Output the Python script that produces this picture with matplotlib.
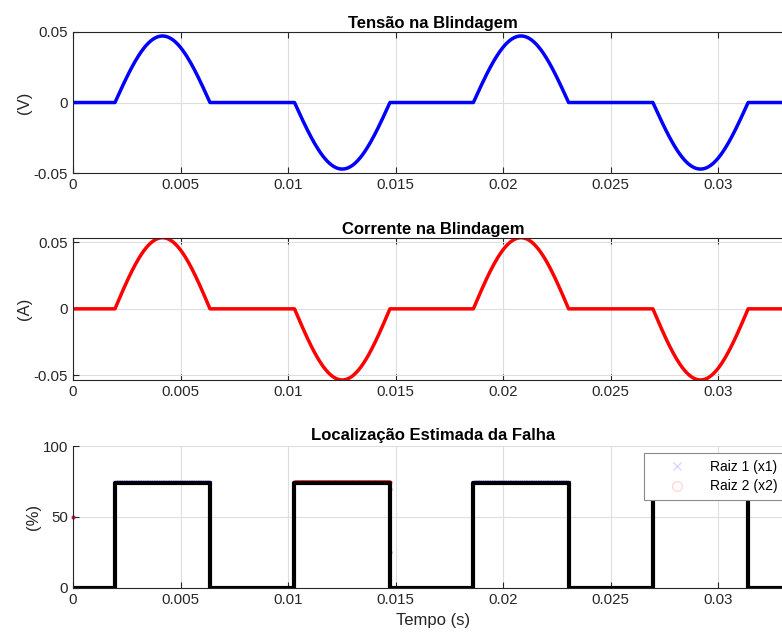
import numpy as np
import matplotlib.pyplot as plt
from matplotlib.lines import Line2D

# valores
lobe_start = [0.00195, 0.01030, 0.01862, 0.02697, 0.03530]
lobe_end = [0.00637, 0.01474, 0.02305, 0.03140, 0.03975]
lobe_sign = [1, -1, 1, -1, 1]
v_peak = 0.047
i_peak = 0.0534
loc_level = 73.7

raiz1_lobes = [0, 2, 3, 4]
raiz2_lobes = [1]
raiz_level = 74.6
raiz1_extra_t = [0.0]
raiz1_extra_y = [50]
raiz2_extra_t = [0.0, 0.01476, 0.01476]
raiz2_extra_y = [50, 25, 70]

xticks = [0, 0.005, 0.01, 0.015, 0.02, 0.025, 0.03]
xtick_labels = ['0', '0.005', '0.01', '0.015', '0.02', '0.025', '0.03']
x_max = 0.0335
t_end = 0.045

plt.rcParams['font.family'] = ['Liberation Sans', 'DejaVu Sans']
cinza = '#262626'


def arcos(peak):
    """ Monta a curva com os semiciclos de conducao"""
    tt, yy = [0.0], [0.0]
    for s, e, sg in zip(lobe_start, lobe_end, lobe_sign):
        ts = np.linspace(s, e, 80)
        tt += list(ts)
        yy += list(sg * peak * np.sin(np.pi * (ts - s) / (e - s)))
    tt.append(t_end)
    yy.append(0.0)
    return tt, yy


def degraus():
    tt, yy = [0.0], [0.0]
    for s, e in zip(lobe_start, lobe_end):
        tt += [s, s, e, e]
        yy += [0, loc_level, loc_level, 0]
    tt.append(t_end)
    yy.append(0)
    return tt, yy


def pontos_raiz(lobes, extra_t, extra_y):
    tt, yy = list(extra_t), list(extra_y)
    for k in lobes:
        ts = np.linspace(lobe_start[k], lobe_end[k], 150)
        tt += list(ts)
        yy += [raiz_level] * len(ts)
    return tt, yy


def estilo(ax, box=True):
    ax.set_xlim(0, x_max)
    ax.set_xticks(xticks)
    ax.set_xticklabels(xtick_labels)
    ax.grid(True, color='#dedede', linewidth=0.8)
    ax.set_axisbelow(True)
    ax.tick_params(direction='in', length=4, width=0.8, colors=cinza,
                   labelsize=10.8, top=box, right=box)
    for sp in ax.spines.values():
        sp.set_color(cinza)
        sp.set_linewidth(0.8)
    if not box:
        ax.spines['top'].set_visible(False)
        ax.spines['right'].set_visible(False)


fig = plt.figure(figsize=(7.82, 6.33), dpi=100)
w = x_max * 21500 / 782
ax1 = fig.add_axes([0.0934, 0.7262, w, 0.2237])
ax2 = fig.add_axes([0.0934, 0.3997, w, 0.2248])
ax3 = fig.add_axes([0.0934, 0.0716, w, 0.2238])

t, v = arcos(v_peak)
ax1.plot(t, v, color='blue', linewidth=2.5)
estilo(ax1)
ax1.set_ylim(-0.05, 0.05)
ax1.set_yticks([-0.05, 0, 0.05])
ax1.set_yticklabels(['-0.05', '0', '0.05'])
ax1.set_ylabel('(V)', fontsize=12, color=cinza, labelpad=1)
ax1.set_title('Tensão na Blindagem', fontsize=12, fontweight='bold', pad=3)

t, i = arcos(i_peak)
ax2.plot(t, i, color='red', linewidth=2.5)
estilo(ax2)
ax2.set_ylim(-i_peak, i_peak)
ax2.set_yticks([-0.05, 0, 0.05])
ax2.set_yticklabels(['-0.05', '0', '0.05'])
ax2.set_ylabel('(A)', fontsize=12, color=cinza, labelpad=1)
ax2.set_title('Corrente na Blindagem', fontsize=12, fontweight='bold', pad=3)

r1t, r1y = pontos_raiz(raiz1_lobes, raiz1_extra_t, raiz1_extra_y)
r2t, r2y = pontos_raiz(raiz2_lobes, raiz2_extra_t, raiz2_extra_y)
ax3.plot(r1t, r1y, 'x', color='blue', markersize=2, alpha=0.6, clip_on=False)
ax3.plot(r2t, r2y, 'o', color='red', markersize=2, alpha=0.6, clip_on=False)
t, loc = degraus()
ax3.plot(t, loc, color='black', linewidth=3)
estilo(ax3, box=False)
ax3.set_ylim(0, 100)
ax3.set_yticks([0, 50, 100])
ax3.set_ylabel('(%)', fontsize=12, color=cinza, labelpad=1)
ax3.set_xlabel('Tempo (s)', fontsize=12, color=cinza, labelpad=5)
ax3.set_title('Localização Estimada da Falha', fontsize=12, fontweight='bold', pad=4)

h1 = Line2D([], [], marker='x', linestyle='none', color='blue', alpha=0.15, markersize=6)
h2 = Line2D([], [], marker='o', linestyle='none', color='red', alpha=0.15, markersize=7,
            markerfacecolor='none')
leg = ax3.legend([h1, h2], ['Raiz 1 (x1)', 'Raiz 2 (x2)'], loc='upper left',
                 bbox_to_anchor=(644 / 782, 1 - 453 / 633), bbox_transform=fig.transFigure,
                 fontsize=10, fancybox=False, framealpha=1, borderaxespad=0,
                 handlelength=3.8, handletextpad=0.45, borderpad=0.5, labelspacing=0.4)
leg.get_frame().set_edgecolor('#8a8a8a')
leg.get_frame().set_linewidth(0.8)

fig.savefig('out.png', dpi=100)
